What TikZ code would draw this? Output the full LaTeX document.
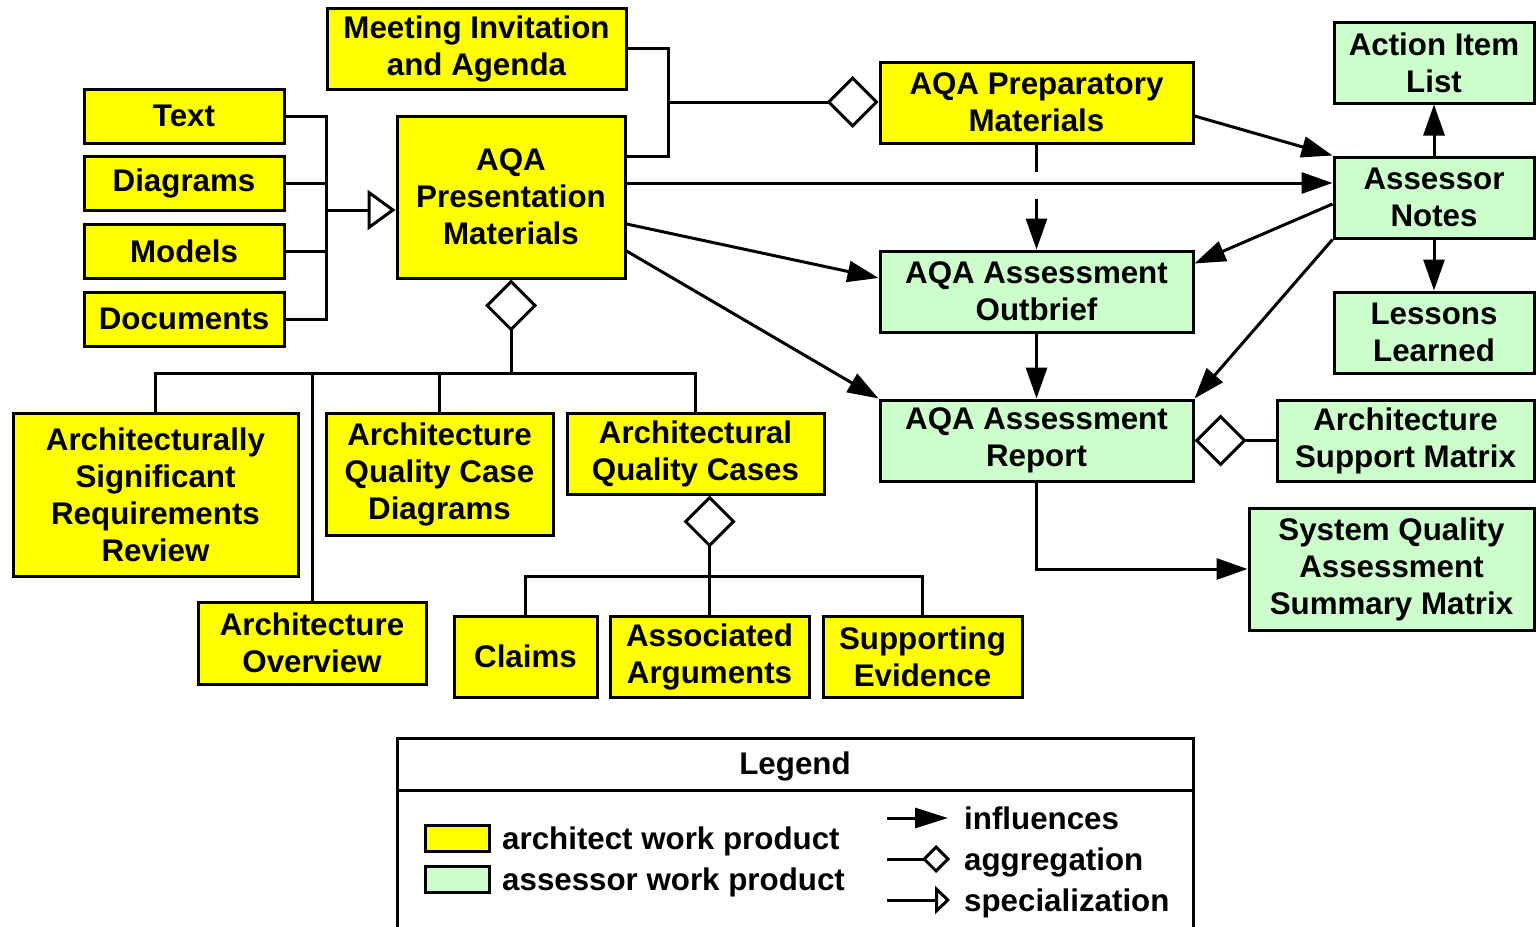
\documentclass[tikz,border=0pt]{standalone}
\usepackage{fontspec}
\setmainfont{Liberation Sans}
\usetikzlibrary{arrows.meta}
\definecolor{archY}{HTML}{FFFF00}
\definecolor{assG}{HTML}{CCFFCC}
\begin{document}
\begin{tikzpicture}[x=1pt,y=-1pt,
  every node/.style={font=\fontsize{31.3}{37}\selectfont\bfseries},
  box/.style={draw, line width=3pt, align=center, inner sep=0pt},
  ybox/.style={box, fill=archY},
  gbox/.style={box, fill=assG},
  conn/.style={line width=3pt},
  infl/.style={conn, -{Triangle[length=31pt,width=21pt]}},
  agg/.style={conn, -{Diamond[fill=white,length=52pt,width=52pt]}},
  spec/.style={conn, -{Triangle[fill=white,length=28pt,width=40pt]}},
  lbl/.style={anchor=west, inner sep=0pt, text height=22pt, text depth=6pt}]
\path[use as bounding box, fill=white] (0,0) rectangle (1538,926);

% architect work products
\node[ybox, minimum width=299, minimum height=81] (meet) at (476.5,48.5) {Meeting Invitation\\and Agenda};
\node[ybox, minimum width=200, minimum height=54] (text) at (184,116) {Text};
\node[ybox, minimum width=200, minimum height=54] (diag) at (184,183) {Diagrams};
\node[ybox, minimum width=200, minimum height=54] (models) at (184,251) {Models};
\node[ybox, minimum width=200, minimum height=54] (docs) at (184,319) {Documents};
\node[ybox, minimum width=228, minimum height=162] (pres) at (511,197) {AQA\\Presentation\\Materials};
\node[ybox, minimum width=313, minimum height=81] (prep) at (1036.5,102.5) {AQA Preparatory\\Materials};
\node[ybox, minimum width=285, minimum height=163] (asrr) at (155.5,494.5) {Architecturally\\Significant\\Requirements\\Review};
\node[ybox, minimum width=227, minimum height=122] (aqcd) at (439.5,474) {Architecture\\Quality Case\\Diagrams};
\node[ybox, minimum width=257, minimum height=81] (aqc) at (695.5,453.5) {Architectural\\Quality Cases};
\node[ybox, minimum width=228, minimum height=82] (overview) at (312,643) {Architecture\\Overview};
\node[ybox, minimum width=143, minimum height=81] (claims) at (525.5,656.5) {Claims};
\node[ybox, minimum width=199, minimum height=81] (assoc) at (709.5,656.5) {Associated\\Arguments};
\node[ybox, minimum width=199, minimum height=81] (support) at (922.5,656.5) {Supporting\\Evidence};

% assessor work products
\node[gbox, minimum width=200, minimum height=81] (action) at (1434,62.5) {Action Item\\List};
\node[gbox, minimum width=200, minimum height=81] (notes) at (1434,197.5) {Assessor\\Notes};
\node[gbox, minimum width=200, minimum height=81] (lessons) at (1434,332.5) {Lessons\\Learned};
\node[gbox, minimum width=313, minimum height=81] (outbrief) at (1036.5,291.5) {AQA Assessment\\Outbrief};
\node[gbox, minimum width=313, minimum height=81] (report) at (1036.5,440.5) {AQA Assessment\\Report};
\node[gbox, minimum width=257, minimum height=81] (asm) at (1405.5,440.5) {Architecture\\Support Matrix};
\node[gbox, minimum width=285, minimum height=122] (sqasm) at (1391.5,569) {System Quality\\Assessment\\Summary Matrix};

% specialization of presentation materials
\coordinate (sb) at (326,210);
\draw[conn] (text.east) -| (sb) |- (docs.east);
\draw[conn] (diag.east) -- (diag.east -| sb);
\draw[conn] (models.east) -- (models.east -| sb);
\draw[spec] (sb) -- (pres.west |- sb);

% preparatory materials aggregate
\coordinate (mj) at (668,102);
\draw[conn] (meet.east) -| (mj) |- ([yshift=41pt]pres.east);
\draw[agg] (mj) -- (prep.west |- mj);

% influences
\draw[infl] ([yshift=14pt]pres.east) -- ([yshift=14pt]pres.east -| notes.west);
\draw[infl] ([yshift=-27pt]pres.east) -- ([yshift=13.5pt]outbrief.west);
\draw[infl] ([yshift=-54pt]pres.east) -- (report.north west);
\draw[infl] ([yshift=-13.5pt]prep.east) -- (notes.north west);
\draw[infl, dash pattern=on 27pt off 27pt] (prep.south) -- (outbrief.north);
\draw[infl] (notes.north) -- (action.south);
\draw[infl] (notes.south) -- (lessons.north);
\draw[infl] ([yshift=-6.5pt]notes.west) -- ([yshift=28pt]outbrief.east);
\draw[infl] (notes.south west) -- (report.north east);
\draw[infl] (outbrief.south) -- (report.north);
\draw[infl] (report.south) |- (sqasm.west);
\draw[agg] (asm.west) -- (report.east);

% presentation materials aggregate
\coordinate (b1) at (511,373);
\draw[conn] (asrr.north) |- (b1);
\draw[conn] (aqc.north) |- (b1);
\draw[conn] (aqcd.north) -- (aqcd.north |- b1);
\draw[conn] (overview.north) -- (overview.north |- b1);
\draw[agg] (b1) -- (pres.south);

% quality cases aggregate
\coordinate (b2) at (709.5,576);
\draw[conn] (claims.north) |- (b2) -| (support.north);
\draw[agg] (assoc.north) -- (assoc.north |- aqc.south);

% legend
\node[draw, line width=3pt, minimum width=796, minimum height=224, inner sep=0pt] (legend) at (795,850) {};
\draw[conn] ([yshift=-54pt]legend.north west) -- ([yshift=-54pt]legend.north east);
\node (legtitle) at (795,766) {Legend};
\node[draw, line width=3pt, fill=archY, minimum width=64, minimum height=26, inner sep=0pt] (swy) at (457,838.5) {};
\node[draw, line width=3pt, fill=assG, minimum width=64, minimum height=26, inner sep=0pt] (swg) at (457,879.5) {};
\node[lbl] (ly) at (502,841) {architect work product};
\node[lbl] (lg) at (502,882) {assessor work product};
\node[lbl] (li) at (964,821) {influences};
\node[lbl] (la) at (964,862) {aggregation};
\node[lbl] (ls) at (964,903) {specialization};
\coordinate (li1) at (887,818);
\coordinate (la1) at (887,859);
\coordinate (ls1) at (887,900);
\draw[conn, -{Triangle[length=33pt,width=20pt]}] (li1) -- ([xshift=-16pt]li.west |- li1);
\draw[conn, -{Diamond[fill=white,length=28pt,width=28pt]}] (la1) -- ([xshift=-14pt]la.west |- la1);
\draw[conn, -{Triangle[fill=white,length=15pt,width=28pt]}] (ls1) -- ([xshift=-14pt]ls.west |- ls1);
\end{tikzpicture}
\end{document}
